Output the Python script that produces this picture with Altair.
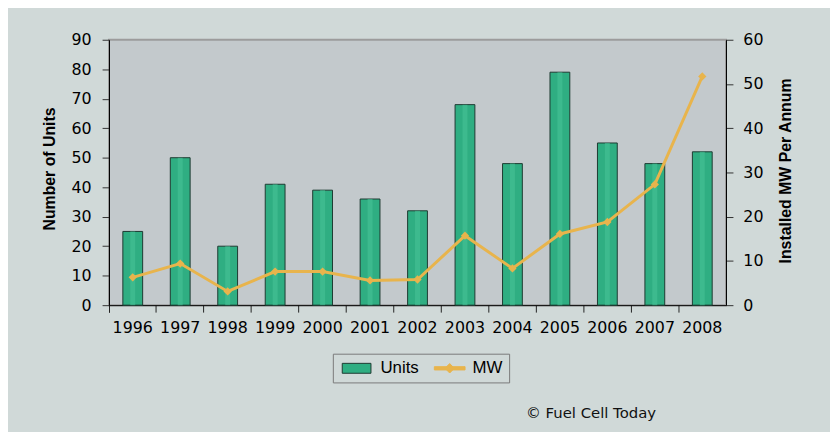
import altair as alt
import pandas as pd

years = ["1996", "1997", "1998", "1999", "2000", "2001", "2002",
         "2003", "2004", "2005", "2006", "2007", "2008"]
units = [25, 50, 20, 41, 39, 36, 32, 68, 48, 79, 55, 48, 52]
mw = [6.3, 9.4, 3.1, 7.6, 7.6, 5.6, 5.8, 15.7, 8.3, 16.1, 18.8, 27.3, 51.7]
legend_labels = ["Units", "MW"]
credit = "© Fuel Cell Today"

GREEN = "#2fae82"
BAR_EDGE = "#1d3a31"
ORANGE = "#e8b44c"
LABEL_FONT = "DejaVu Sans"
TITLE_FONT = "Liberation Sans"

df = pd.DataFrame({"year": years, "units": units, "mw": mw})
leg_df = pd.DataFrame({"series": legend_labels})
txt_df = pd.DataFrame({"t": [credit]})

xenc = alt.X(
    "year:O",
    scale=alt.Scale(domain=years, paddingInner=0, paddingOuter=0),
    axis=alt.Axis(
        title=None, labelAngle=0, bandPosition=0, tickExtra=True,
        tickSize=7, tickColor="#222222", domainColor="#000000",
        labelPadding=8, labelFont=LABEL_FONT, labelFontSize=16,
        labelColor="#000000", labelOverlap=False, labelFlush=False,
    ),
)

units_y = alt.Y(
    "units:Q",
    scale=alt.Scale(domain=[0, 90], nice=False),
    axis=alt.Axis(
        values=list(range(0, 91, 10)), orient="left", grid=False,
        tickSize=7, tickColor="#333333", domainColor="#000000", labelOverlap=False,
        labelPadding=11, labelFont=LABEL_FONT, labelFontSize=16, labelColor="#000000",
        title="Number of Units", titleFont=TITLE_FONT, titleFontSize=16,
        titleFontWeight="bold", titleColor="#000000", titleAngle=270,
        titleBaseline="alphabetic", titleAlign="center", titleX=-55, titleY=130,
    ),
)

bars = alt.Chart(df).mark_bar(size=20, color=GREEN, stroke=BAR_EDGE, strokeWidth=1).encode(
    x=xenc, y=units_y
)
stripe = alt.Chart(df).mark_bar(size=5, color="#47c196", opacity=0.6).encode(
    x=xenc, y=units_y
)

mw_y = alt.Y(
    "mw:Q",
    scale=alt.Scale(domain=[0, 60], nice=False),
    axis=alt.Axis(
        values=list(range(0, 61, 10)), orient="right", grid=False,
        tickSize=7, tickColor="#333333", domainColor="#000000", labelOverlap=False,
        labelPadding=10, labelFont=LABEL_FONT, labelFontSize=16, labelColor="#000000",
        title="Installed MW Per Annum", titleFont=TITLE_FONT, titleFontSize=16,
        titleFontWeight="bold", titleColor="#000000", titleAngle=270,
        titleBaseline="alphabetic", titleAlign="center", titleX=65, titleY=132,
    ),
)

line = alt.Chart(df).mark_line(color=ORANGE, strokeWidth=3).encode(x=xenc, y=mw_y)
pts = alt.Chart(df).mark_point(shape="diamond", filled=True, size=70, color=ORANGE, opacity=1).encode(
    x=xenc, y=mw_y
)

rect_path = "M-1,-1H4.8V1H-1Z"
mw_path = "M-1,-0.33H5.2V0.33H-1Z M2.1,-0.95L3.05,0L2.1,0.95L1.15,0Z"

leg_kwargs = dict(
    title=None, orient="none", legendX=226, legendY=317, direction="horizontal",
    symbolSize=100, symbolStrokeWidth=1, symbolOpacity=1, labelOffset=25,
    columnPadding=12, labelFont=TITLE_FONT, labelFontSize=17, labelColor="#000000",
    strokeColor="#7a7a7a", padding=6, cornerRadius=0,
)
legend_layer = alt.Chart(leg_df).mark_point(filled=True, strokeWidth=1).encode(
    x=alt.value(-300),
    y=alt.value(-300),
    color=alt.Color("series:N", scale=alt.Scale(domain=legend_labels, range=[GREEN, ORANGE]),
                    legend=alt.Legend(**leg_kwargs)),
    shape=alt.Shape("series:N", scale=alt.Scale(domain=legend_labels, range=[rect_path, mw_path]),
                    legend=alt.Legend(**leg_kwargs)),
    stroke=alt.Stroke("series:N", scale=alt.Scale(domain=legend_labels, range=[BAR_EDGE, ORANGE]),
                      legend=alt.Legend(**leg_kwargs)),
)

credit_text = alt.Chart(txt_df).mark_text(
    align="left", baseline="alphabetic", font=LABEL_FONT, fontSize=15, color="#111111"
).encode(x=alt.value(421), y=alt.value(382), text="t:N")

chart = (
    alt.layer(alt.layer(bars, stripe), alt.layer(line, pts), legend_layer, credit_text)
    .resolve_scale(y="independent")
    .properties(
        width=623, height=268,
        autosize=alt.AutoSizeParams(type="none"),
        padding={"left": 102, "top": 30, "right": 105, "bottom": 126},
        background="#d0d9d8",
    )
    .configure_view(fill="#c3c9cc", stroke="#9c9c9c", strokeWidth=2)
)

chart.save("out.html", embed_options={"renderer": "svg", "actions": False})
